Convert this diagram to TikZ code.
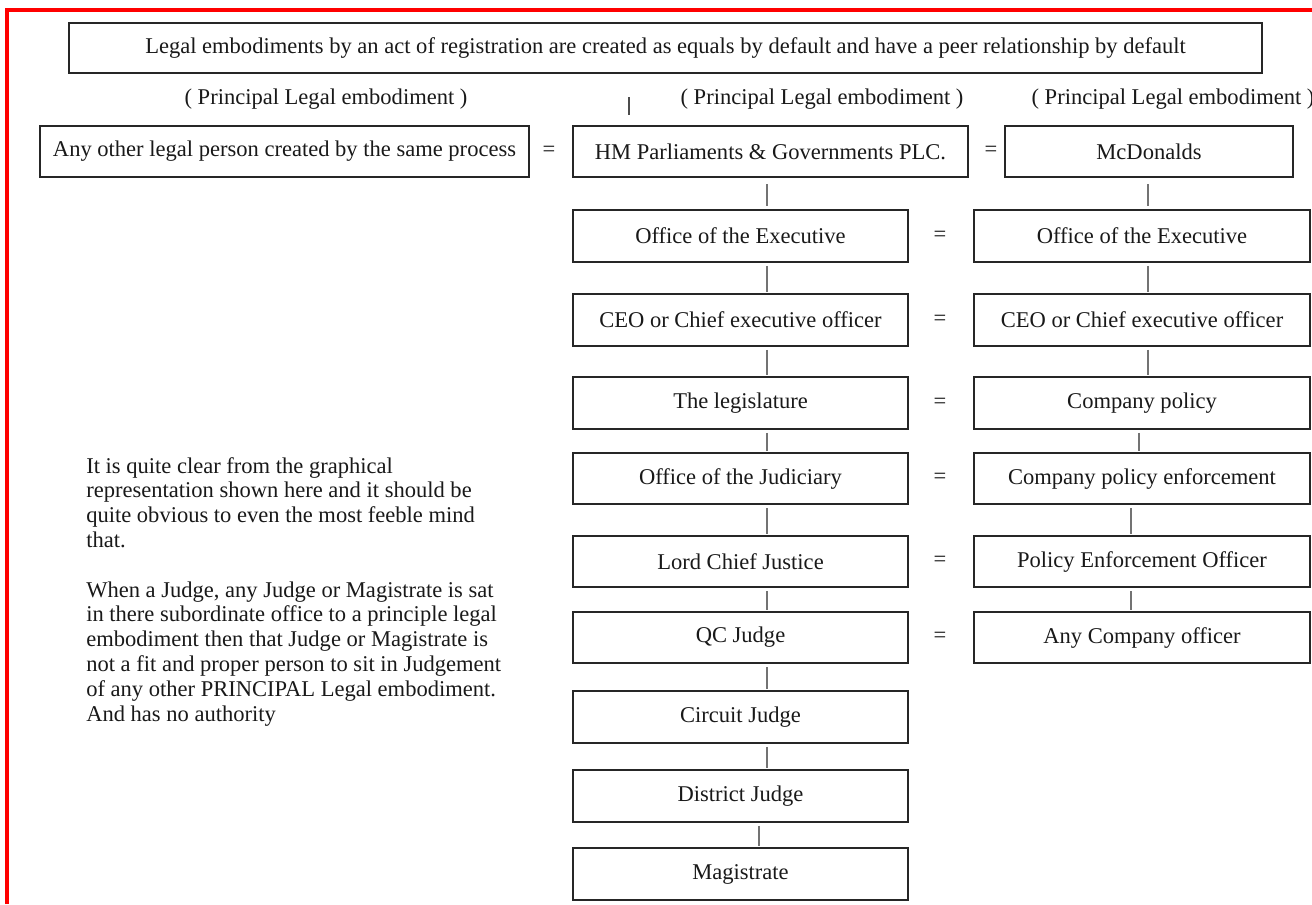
\documentclass[tikz,border=0pt]{standalone}
\usepackage{fontspec}
\setmainfont{Liberation Serif}
\begin{document}
\begin{tikzpicture}[x=0.75pt,y=-0.75pt,
  every node/.style={font=\fontsize{16.9}{18.6}\selectfont, inner sep=0pt, text=black!90},
  box/.style={draw=black!85, line width=1.3pt, minimum height=38.5pt},
  lbox/.style={box, minimum width=251.25pt},
  rbox/.style={box, minimum width=252pt},
  conn/.style={draw=black!55, line width=1pt, shorten <=2.5pt, shorten >=0.75pt}]
\useasboundingbox (0,0) rectangle (1312,904);
\fill[white] (0,0) rectangle (1312,904);
% red frame
\draw[red, line width=2.6pt] (7,904) -- (7,10) -- (1312,10);

% title
\node[box, minimum width=894.75pt, minimum height=37.5pt] (title) at (665.5,48)
  {Legal embodiments by an act of registration are created as equals by default and have a peer relationship by default};

% labels
\node (lab1) at (326,99) {( Principal Legal embodiment )};
\node (lab2) at (822,99) {( Principal Legal embodiment )};
\node (lab3) at (1173,99) {( Principal Legal embodiment )};
\coordinate (bart) at (629,97);
\coordinate (barb) at (629,115);
\draw[draw=black!70, line width=1pt] (bart) -- (barb);

% row 1
\node[box, minimum width=366.75pt] (any) at (284.5,151.5) {Any other legal person created by the same process};
\node (eq0) at (549,151.5) {=};
\node[box, minimum width=296.25pt] (hm) at (770.5,151.5) {HM Parliaments \& Governments PLC.};
\node (eq1) at (991,151.5) {=};
\node[box, minimum width=216pt] (mcd) at (1149,151.5) {McDonalds};

% left column
\node[lbox] (oe) at (740.5,236) {Office of the Executive};
\node[lbox] (ceo) at (740.5,320) {CEO or Chief executive officer};
\node[lbox] (leg) at (740.5,403) {The legislature};
\node[lbox] (jud) at (740.5,478.5) {Office of the Judiciary};
\node[lbox] (lcj) at (740.5,561.5) {Lord Chief Justice};
\node[lbox] (qc) at (740.5,637.5) {QC Judge};
\node[lbox] (cir) at (740.5,717) {Circuit Judge};
\node[lbox] (dis) at (740.5,796) {District Judge};
\node[lbox] (mag) at (740.5,874) {Magistrate};

% right column
\node[rbox] (roe) at (1142,236) {Office of the Executive};
\node[rbox] (rceo) at (1142,320) {CEO or Chief executive officer};
\node[rbox] (cp) at (1142,403) {Company policy};
\node[rbox] (cpe) at (1142,478.5) {Company policy enforcement};
\node[rbox] (peo) at (1142,561.5) {Policy Enforcement Officer};
\node[rbox] (aco) at (1142,637.5) {Any Company officer};

% equals
\node (eq2) at (940,236) {=};
\node (eq3) at (940,320) {=};
\node (eq4) at (940,403) {=};
\node (eq5) at (940,478.5) {=};
\node (eq6) at (940,561.5) {=};
\node (eq7) at (940,637.5) {=};

% connector x positions
\coordinate (cl) at (767,0);
\coordinate (cl2) at (759,0);
\coordinate (cr) at (1148,0);
\coordinate (cr2) at (1139,0);
\coordinate (cr3) at (1131,0);

\draw[conn, shorten <=4.5pt, shorten >=2.25pt] (hm.south -| cl) -- (oe.north -| cl);
\draw[conn] (oe.south -| cl) -- (ceo.north -| cl);
\draw[conn] (ceo.south -| cl) -- (leg.north -| cl);
\draw[conn] (leg.south -| cl) -- (jud.north -| cl);
\draw[conn] (jud.south -| cl) -- (lcj.north -| cl);
\draw[conn] (lcj.south -| cl) -- (qc.north -| cl);
\draw[conn] (qc.south -| cl) -- (cir.north -| cl);
\draw[conn] (cir.south -| cl) -- (dis.north -| cl);
\draw[conn] (dis.south -| cl2) -- (mag.north -| cl2);

\draw[conn, shorten <=4.5pt, shorten >=2.25pt] (mcd.south -| cr) -- (roe.north -| cr);
\draw[conn] (roe.south -| cr) -- (rceo.north -| cr);
\draw[conn] (rceo.south -| cr) -- (cp.north -| cr);
\draw[conn] (cp.south -| cr2) -- (cpe.north -| cr2);
\draw[conn] (cpe.south -| cr3) -- (peo.north -| cr3);
\draw[conn] (peo.south -| cr3) -- (aco.north -| cr3);

% paragraph
\node[anchor=north west, align=left] (para) at (86,457) {It is quite clear from the graphical\\
representation shown here and it should be\\
quite obvious to even the most feeble mind\\
that.\\[18.6pt]
When a Judge, any Judge or Magistrate is sat\\
in there subordinate office to a principle legal\\
embodiment then that Judge or Magistrate is\\
not a fit and proper person to sit in Judgement\\
of any other PRINCIPAL Legal embodiment.\\
And has no authority};
\end{tikzpicture}
\end{document}
